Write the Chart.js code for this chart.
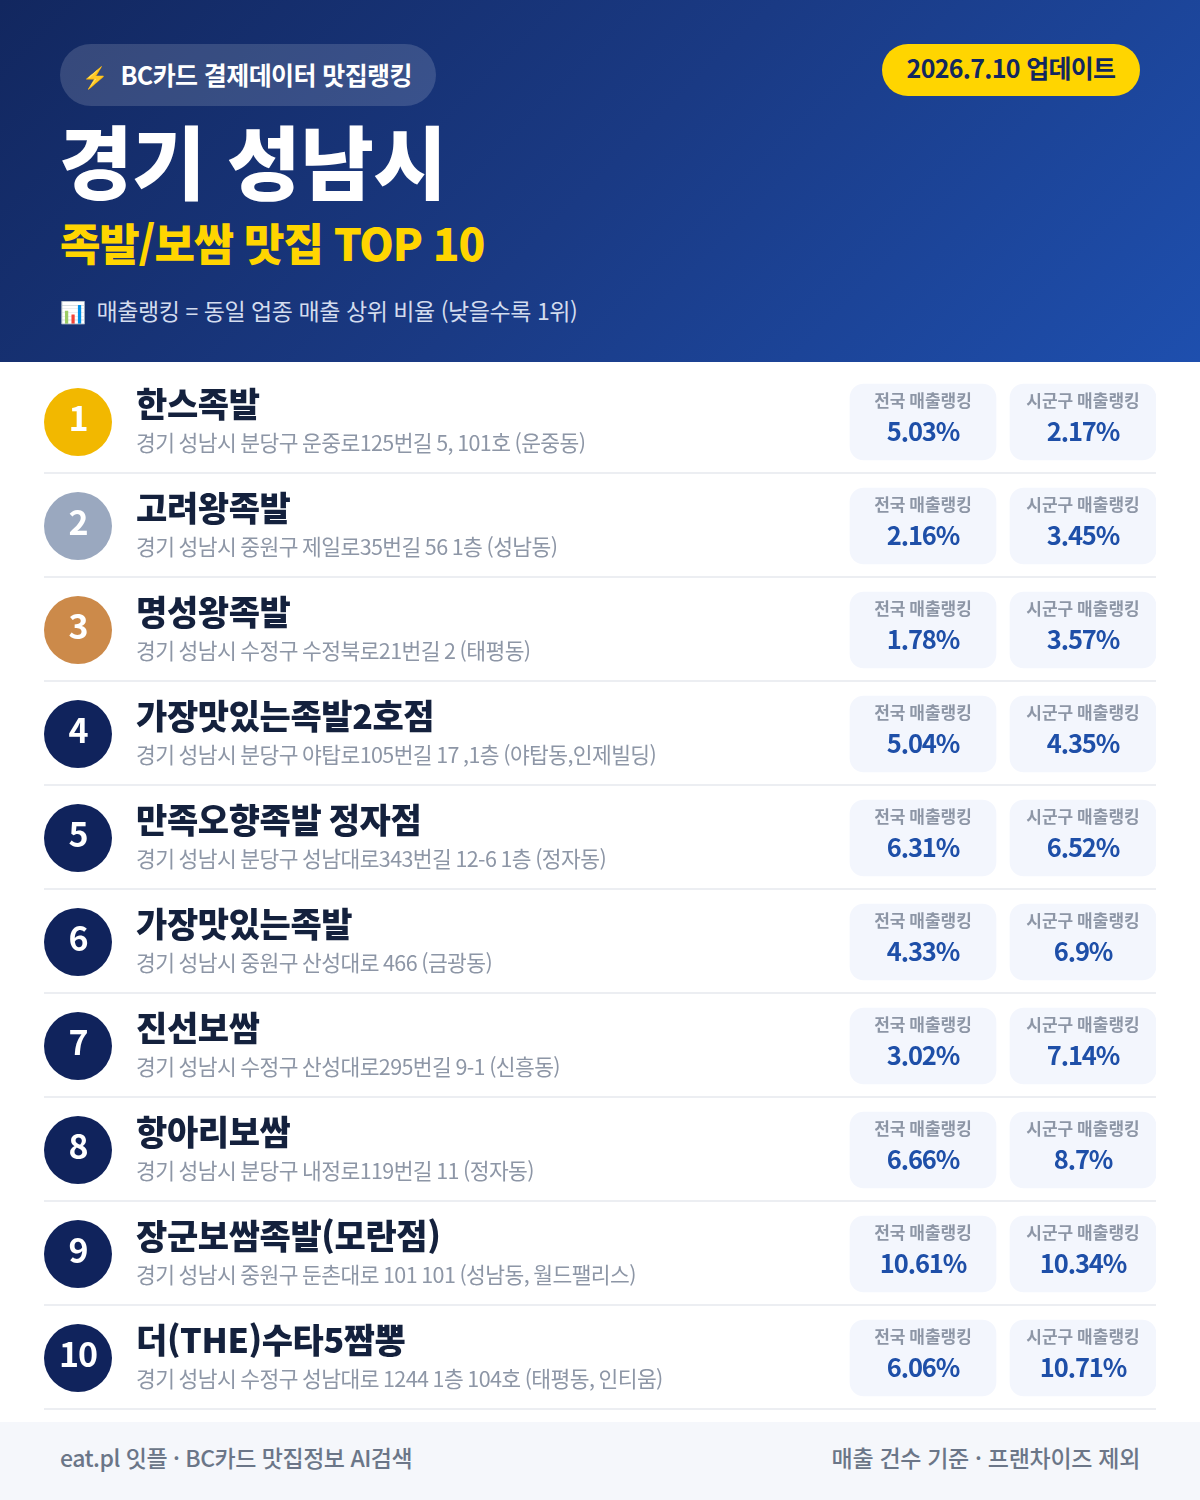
<!DOCTYPE html>
<html lang="ko">
<head>
<meta charset="utf-8">
<title>경기 성남시 족발/보쌈 맛집 TOP 10</title>
<script src="https://cdn.jsdelivr.net/npm/chart.js@4/dist/chart.umd.min.js"></script>
<style>
  * { margin: 0; padding: 0; box-sizing: border-box; }
  html, body { width: 1200px; height: 1500px; background: #fff; overflow: hidden; }
  body { font-family: "Noto Sans CJK KR", "Noto Sans", sans-serif; position: relative; }
  #head { position: absolute; left: 0; top: 0; width: 1200px; height: 362px;
    background: linear-gradient(135deg, #12275f 0%, #1a3a84 50%, #1e4fae 100%); }
  #head div, #foot div { position: absolute; white-space: nowrap; }
  #badge { left: 60px; top: 44px; width: 376px; height: 62px; border-radius: 31px;
    background: rgba(255,255,255,.15); color: #fff; font-size: 25px; font-weight: 700;
    line-height: 60px; padding-left: 22px; letter-spacing: -.6px; }
  #badge span { font-size: 21px; margin-right: 13px; }
  #note span { font-size: 21px; margin-right: 11px; }
  #updated { left: 882px; top: 44px; width: 258px; height: 52px; border-radius: 26px;
    background: #ffd500; color: #12275f; font-size: 25px; font-weight: 700;
    line-height: 46px; text-align: center; letter-spacing: -.7px; }
  #city { left: 59px; top: 103px; font-size: 80px; font-weight: 900; color: #fff; line-height: 110px; letter-spacing: -.5px; }
  #sub { left: 60px; top: 212px; font-size: 44px; font-weight: 800; color: #ffd500; line-height: 60px; letter-spacing: -1.2px; }
  #note { left: 60px; top: 293px; font-size: 23px; font-weight: 400; color: #d3dcee; line-height: 34px; letter-spacing: -.45px; }
  #rows { position: absolute; left: 0; top: 362px; }
  #foot { position: absolute; left: 0; top: 1422px; width: 1200px; height: 78px; background: #f5f7fb;
    color: #6b7688; font-size: 23px; font-weight: 500; line-height: 70px; }
  #footL { left: 60px; letter-spacing: -.5px; }
  #footR { right: 60px; letter-spacing: -.3px; }
</style>
</head>
<body>
<div id="head">
  <div id="badge"><span>⚡</span>BC카드 결제데이터 맛집랭킹</div>
  <div id="updated">2026.7.10 업데이트</div>
  <div id="city">경기 성남시</div>
  <div id="sub">족발/보쌈 맛집 TOP 10</div>
  <div id="note"><span>📊</span>매출랭킹 = 동일 업종 매출 상위 비율 (낮을수록 1위)</div>
</div>
<canvas id="rows" width="1200" height="1060"></canvas>
<div id="foot">
  <div id="footL">eat.pl 잇플 · BC카드 맛집정보 AI검색</div>
  <div id="footR">매출 건수 기준 · 프랜차이즈 제외</div>
</div>
<script>
const names = ["한스족발", "고려왕족발", "명성왕족발", "가장맛있는족발2호점", "만족오향족발 정자점",
  "가장맛있는족발", "진선보쌈", "항아리보쌈", "장군보쌈족발(모란점)", "더(THE)수타5짬뽕"];
const addresses = [
  "경기 성남시 분당구 운중로125번길 5, 101호 (운중동)",
  "경기 성남시 중원구 제일로35번길 56 1층 (성남동)",
  "경기 성남시 수정구 수정북로21번길 2 (태평동)",
  "경기 성남시 분당구 야탑로105번길 17 ,1층 (야탑동,인제빌딩)",
  "경기 성남시 분당구 성남대로343번길 12-6 1층 (정자동)",
  "경기 성남시 중원구 산성대로 466 (금광동)",
  "경기 성남시 수정구 산성대로295번길 9-1 (신흥동)",
  "경기 성남시 분당구 내정로119번길 11 (정자동)",
  "경기 성남시 중원구 둔촌대로 101 101 (성남동, 월드팰리스)",
  "경기 성남시 수정구 성남대로 1244 1층 104호 (태평동, 인티움)"
];
const nationalRank = ["5.03", "2.16", "1.78", "5.04", "6.31", "4.33", "3.02", "6.66", "10.61", "6.06"];
const localRank = ["2.17", "3.45", "3.57", "4.35", "6.52", "6.9", "7.14", "8.7", "10.34", "10.71"];
const nationalLabel = "전국 매출랭킹";
const localLabel = "시군구 매출랭킹";
const medalColors = ["#f2b800", "#9aa8bf", "#cc8a4a"];
const navy = "#10235c";

/* ========= LAYOUT (x axis runs in px from the left margin) ========= */
const FONT = '"Noto Sans CJK KR", "Noto Sans", sans-serif';
const natCard = [806, 952];
const locCard = [966, 1112];
const circleX = 34;
const textX = 92;

const rowText = {
  id: "rowText",
  beforeDatasetsDraw(chart) {
    const { ctx, scales: { x, y } } = chart;
    ctx.save();
    ctx.fillStyle = "#eceef2";
    names.forEach((n, i) => {
      ctx.fillRect(x.left, y.getPixelForValue(i) + 50, x.right - x.left, 2);
    });
    ctx.restore();
  },
  afterDatasetsDraw(chart) {
    const { ctx, scales: { x, y } } = chart;
    const put = (txt, px, py, font, color, align, spacing) => {
      ctx.font = font + " " + FONT;
      ctx.fillStyle = color;
      ctx.textAlign = align;
      ctx.letterSpacing = spacing || "0px";
      ctx.fillText(txt, px, py);
    };
    ctx.save();
    ctx.textBaseline = "middle";
    names.forEach((n, i) => {
      const cy = y.getPixelForValue(i);
      put(String(i + 1), x.getPixelForValue(circleX), cy - 4, "700 34px", "#fff", "center", "-1px");
      put(n, x.getPixelForValue(textX), cy - 18, "800 34px", "#14213d", "left", "-.4px");
      put(addresses[i], x.getPixelForValue(textX), cy + 21, "400 21.5px", "#8d96a6", "left", "-.6px");

      const natX = x.getPixelForValue((natCard[0] + natCard[1]) / 2);
      const locX = x.getPixelForValue((locCard[0] + locCard[1]) / 2);
      put(nationalLabel, natX, cy - 21, "700 17px", "#8d96a6", "center");
      put(localLabel, locX, cy - 21, "700 17px", "#8d96a6", "center");
      put(nationalRank[i] + "%", natX, cy + 9, "700 25.5px", "#1e4fa8", "center", "-1.1px");
      put(localRank[i] + "%", locX, cy + 9, "700 25.5px", "#1e4fa8", "center", "-1.1px");
    });
    ctx.restore();
  }
};

function cardDataset(range) {
  return {
    type: "bar",
    indexAxis: "y",
    data: names.map(() => range),
    backgroundColor: "#f3f6fd",
    borderRadius: 14,
    borderSkipped: false,
    barThickness: 76,
    grouped: false
  };
}

new Chart(document.getElementById("rows"), {
  data: {
    labels: names,
    datasets: [
      cardDataset(natCard),
      cardDataset(locCard),
      {
        type: "scatter",
        data: names.map(n => ({ x: circleX, y: n })),
        pointRadius: 34,
        pointHoverRadius: 34,
        borderWidth: 0,
        backgroundColor: names.map((n, i) => medalColors[i] || navy)
      }
    ]
  },
  options: {
    responsive: false,
    animation: false,
    devicePixelRatio: 1,
    layout: { autoPadding: false, padding: { left: 44, right: 44, top: 8, bottom: 12 } },
    plugins: { legend: { display: false }, tooltip: { enabled: false } },
    scales: {
      x: { type: "linear", min: 0, max: 1112, display: false },
      y: { type: "category", offset: true, display: false }
    }
  },
  plugins: [rowText]
});
</script>
</body>
</html>
